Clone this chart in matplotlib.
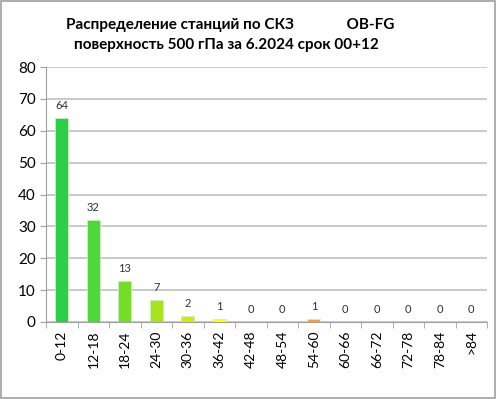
import numpy as np
import matplotlib.pyplot as plt

plt.rcParams['font.family'] = ['Lato', 'DejaVu Sans']

categories = ['0-12', '12-18', '18-24', '24-30', '30-36', '36-42', '42-48',
              '48-54', '54-60', '60-66', '66-72', '72-78', '78-84', '>84']
counts = [64, 32, 13, 7, 2, 1, 0, 0, 1, 0, 0, 0, 0, 0]
colors = ['#2ccf48', '#4fd83a', '#74dd28', '#a8e31e', '#d4e80e', '#ffff00', '#d0d0d0',
          '#d0d0d0', '#ff9933', '#d0d0d0', '#d0d0d0', '#d0d0d0', '#d0d0d0', '#d0d0d0']

fig = plt.figure(figsize=(4.96, 3.99), dpi=100)
ax = fig.add_axes([0.093, 0.193, 0.889, 0.639])

x = np.arange(len(categories))
bars = ax.bar(x, counts, 0.42, color=colors, edgecolor='#c8f0c0', linewidth=0.6, zorder=3)

for xi, v in zip(x, counts):
    ax.text(xi, v + 3.8, str(v), ha='center', va='center', fontsize=8, color='#303030')

ax.set_xlim(-0.5, len(categories) - 0.5)
ax.set_ylim(0, 80)
ax.set_yticks(range(0, 81, 10))
ax.set_xticks(x)
ax.set_xticklabels(categories, rotation=90, fontsize=10)
ax.tick_params(axis='y', labelsize=11, length=4, color='#a0a0a0')
ax.set_xticks(np.arange(-0.5, len(categories)), minor=True)
ax.tick_params(axis='x', which='minor', length=4, color='#a0a0a0')
ax.tick_params(axis='x', which='major', length=0, pad=6)
ax.grid(axis='y', color='#c0c0c0', linewidth=1.2, zorder=0)
for s in ['top', 'right']:
    ax.spines[s].set_visible(False)
ax.spines['left'].set_color('#a0a0a0')
ax.spines['bottom'].set_color('#a0a0a0')

fig.text(0.464, 0.938, 'Распределение станций по СКЗ              OB-FG',
         ha='center', va='center', fontsize=11, fontweight='bold')
fig.text(0.456, 0.886, 'поверхность 500 гПа за 6.2024 срок 00+12',
         ha='center', va='center', fontsize=11, fontweight='bold')

fig.patches.append(plt.Rectangle((0.002, 0.002), 0.996, 0.996, transform=fig.transFigure,
                                 fill=False, edgecolor='#a0a0a0', linewidth=1.2))

plt.savefig('out.png')
